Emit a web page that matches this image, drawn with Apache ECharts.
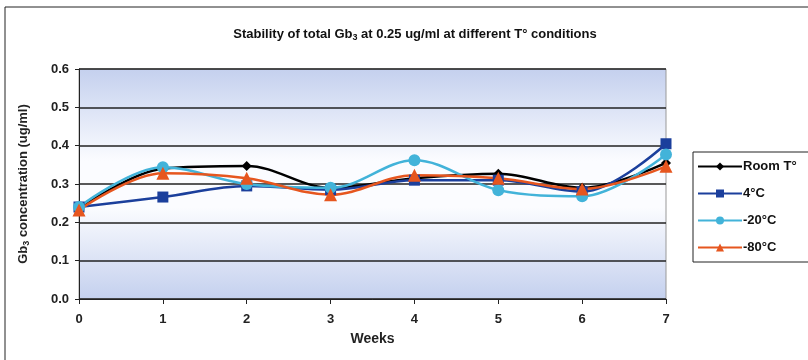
<!DOCTYPE html>
<html><head><meta charset="utf-8">
<script src="https://cdn.jsdelivr.net/npm/echarts@6/dist/echarts.min.js"></script>
<style>html,body{margin:0;padding:0;background:#fff}#c{width:808px;height:360px}</style>
</head><body><div id="c"></div>
<script>
var weeks = ['0','1','2','3','4','5','6','7'];
var seriesNames = ['Room T°','4°C','-20°C','-80°C'];
var roomT = [0.235,0.34,0.347,0.29,0.315,0.327,0.29,0.355];
var c4 = [0.24,0.266,0.295,0.285,0.31,0.31,0.28,0.405];
var c20 = [0.24,0.344,0.30,0.29,0.362,0.284,0.268,0.377];
var c80 = [0.232,0.328,0.315,0.272,0.323,0.315,0.287,0.346];
var yTicks = [0,0.1,0.2,0.3,0.4,0.5,0.6];

var chart = echarts.init(document.getElementById('c'));
var font = 'Liberation Sans, Arial, sans-serif';
function mk(name, data, color, symbol, size){
  return {name:name,type:'line',data:data,smooth:0.35,symbol:symbol,symbolSize:size,
    lineStyle:{color:color,width:2.5},itemStyle:{color:color},z:3};
}
chart.setOption({
  animation:false,
  textStyle:{fontFamily:font},
  graphic:[{type:'rect',shape:{x:5,y:7,width:820,height:370},style:{fill:'none',stroke:'#222',lineWidth:1},silent:true}],
  title:{text:'{a|Stability of total Gb}{s|3}{a| at 0.25 ug/ml at different T° conditions}',left:410,textAlign:'center',top:22,
    textStyle:{rich:{a:{fontSize:13,fontWeight:'bold',fontFamily:font,color:'#111'},s:{fontSize:9,fontWeight:'bold',fontFamily:font,color:'#111',padding:[6,0,0,0]}}}},
  grid:{left:79,right:142,top:69,bottom:61,show:true,borderColor:'#999',borderWidth:1,
    backgroundColor:new echarts.graphic.LinearGradient(0,0,0,1,[
      {offset:0,color:'#c4d0ee'},{offset:0.4,color:'#fbfcff'},{offset:0.6,color:'#fbfcff'},{offset:1,color:'#c4d0ee'}])},
  legend:{orient:'vertical',left:693,top:152,data:seriesNames,itemWidth:44,itemHeight:10,itemGap:14,
    borderColor:'#222',borderWidth:1,padding:[8,20,8,4],
    textStyle:{fontSize:13,fontWeight:'bold',fontFamily:font,color:'#111',padding:[0,0,0,-4]}},
  xAxis:{type:'category',data:weeks,boundaryGap:false,name:'Weeks',nameLocation:'middle',nameGap:33,
    nameTextStyle:{fontSize:14,fontWeight:'bold',fontFamily:font,color:'#222'},
    axisLine:{lineStyle:{color:'#222',width:1}},axisTick:{show:true,length:5,lineStyle:{color:'#222'}},
    axisLabel:{fontSize:13,fontWeight:'bold',color:'#222',margin:14},splitLine:{show:false}},
  yAxis:{type:'value',min:0,max:0.6,interval:0.1,
    name:'{a|Gb}{s|3}{a| concentration (ug/ml)}',nameLocation:'middle',nameGap:48,nameRotate:90,
    nameTextStyle:{rich:{a:{fontSize:13,fontWeight:'bold',fontFamily:font,color:'#222'},s:{fontSize:9,fontWeight:'bold',fontFamily:font,color:'#222',padding:[6,0,0,0]}}},
    axisLine:{show:true,lineStyle:{color:'#222',width:1}},axisTick:{show:true,length:4,lineStyle:{color:'#222'}},
    axisLabel:{fontSize:13,fontWeight:'bold',color:'#222',margin:10,formatter:function(v){return v.toFixed(1);}},
    splitLine:{show:true,lineStyle:{color:'#222',width:1.5}}},
  series:[
    mk(seriesNames[0],roomT,'#000000','diamond',10),
    mk(seriesNames[1],c4,'#1b3f9c','rect',11),
    mk(seriesNames[2],c20,'#42b3d9','circle',12),
    mk(seriesNames[3],c80,'#e6561f','triangle',13)
  ]
});
</script></body></html>
